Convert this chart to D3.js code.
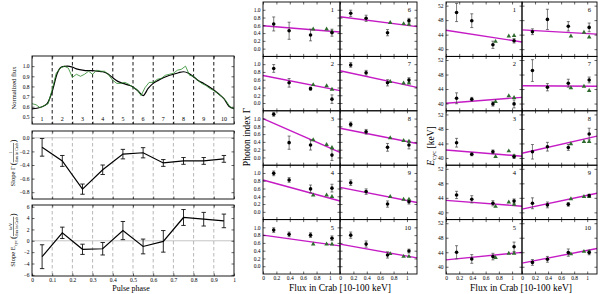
<!DOCTYPE html>
<html>
<head>
<meta charset="utf-8">
<script src="https://cdn.jsdelivr.net/npm/d3@7"></script>
<style>
body { margin: 0; background: #fff; }
svg { display: block; font-family: "Liberation Serif", "DejaVu Serif", serif; }
</style>
</head>
<body>
<svg id="fig" width="600" height="294"></svg>
<script>
/* Data */

var binPhase = [0.05, 0.15, 0.25, 0.35, 0.45, 0.55, 0.65, 0.75, 0.85, 0.95];
var binLabels = ["1", "2", "3", "4", "5", "6", "7", "8", "9", "10"];
var binEdges = [0.1, 0.2, 0.3, 0.4, 0.5, 0.6, 0.7, 0.8, 0.9];

// pulse profile, smooth (black)
var profPhase = [0, 0.025, 0.05, 0.075, 0.1, 0.125, 0.15, 0.175, 0.2, 0.225, 0.25, 0.275, 0.3, 0.325, 0.35, 0.375, 0.4,
	0.425, 0.45, 0.475, 0.5, 0.525, 0.55, 0.575, 0.6, 0.625, 0.65, 0.675, 0.7, 0.725, 0.75, 0.775, 0.8, 0.825, 0.85,
	0.875, 0.9, 0.925, 0.95, 0.975, 1];
var profFlux = [0.58, 0.585, 0.6, 0.63, 0.75, 0.93, 0.995, 1.0, 0.99, 0.97, 0.96, 0.955, 0.955, 0.95, 0.945, 0.925, 0.885,
	0.85, 0.83, 0.815, 0.795, 0.755, 0.71, 0.78, 0.83, 0.86, 0.885, 0.905, 0.92, 0.935, 0.945, 0.93, 0.895, 0.855, 0.83,
	0.8, 0.765, 0.725, 0.68, 0.605, 0.58];

// pulse profile, fine bins (green)
var fineTime = [0, 0.02, 0.04, 0.06, 0.08, 0.1, 0.12, 0.14, 0.16, 0.18, 0.2, 0.22, 0.24, 0.26, 0.28, 0.3, 0.32, 0.34, 0.36,
	0.38, 0.4, 0.42, 0.44, 0.46, 0.48, 0.5, 0.52, 0.54, 0.56, 0.58, 0.6, 0.62, 0.64, 0.66, 0.68, 0.7, 0.72, 0.74, 0.76,
	0.78, 0.8, 0.82, 0.84, 0.86, 0.88, 0.9, 0.92, 0.94, 0.96, 0.98, 1];
var fineFlux = [0.63, 0.62, 0.59, 0.61, 0.63, 0.77, 0.93, 0.98, 1.0, 0.98, 0.89, 0.92, 0.9, 0.92, 0.95, 0.92, 0.96, 0.95,
	0.95, 0.91, 0.86, 0.83, 0.83, 0.84, 0.82, 0.79, 0.77, 0.71, 0.79, 0.84, 0.84, 0.87, 0.88, 0.91, 0.92, 0.93, 0.96, 0.97,
	1.0, 0.91, 0.9, 0.86, 0.83, 0.81, 0.78, 0.76, 0.73, 0.7, 0.66, 0.6, 0.58];

// slopes per phase bin
var slopeGamma = [-0.14, -0.34, -0.755, -0.47, -0.24, -0.22, -0.37, -0.34, -0.34, -0.31];
var slopeGammaErr = [0.13, 0.08, 0.075, 0.07, 0.07, 0.075, 0.05, 0.05, 0.05, 0.05];
var slopeEcyc = [-2.8, 1.4, -1.5, -1.4, 1.8, -1.0, -0.1, 4.1, 3.8, 3.5];
var slopeEcycErr = [2.1, 1.0, 0.9, 1.1, 1.6, 1.3, 1.9, 1.4, 1.2, 1.2];

// flux of the observations (circles) and of the reference points (triangles)
var fluxCircle = [0.16, 0.39, 0.71, 1.03];
var fluxTriangle = [0.75, 0.95, 1.03];

// photon index per bin
var gammaCircle = [
	[0.635, 0.46, 0.35, 0.41], [0.89, 0.52, 0.37, 0.10], [1.11, 0.38, 0.32, 0.06], [0.99, 0.82, 0.59, 0.61],
	[0.93, 0.82, 0.80, 0.72], [0.91, 0.78, 0.41, 0.72], [0.98, 0.78, 0.52, 0.59], [0.85, 0.66, 0.26, 0.32],
	[0.75, 0.52, 0.20, 0.26], [0.80, 0.57, 0.29, 0.39]];
var gammaCircleErr = [
	[0.18, 0.22, 0.15, 0.09], [0.10, 0.11, 0.04, 0.11], [0.05, 0.17, 0.13, 0.14], [0.06, 0.06, 0.10, 0.10],
	[0.06, 0.06, 0.06, 0.06], [0.08, 0.08, 0.08, 0.06], [0.06, 0.06, 0.08, 0.06], [0.06, 0.06, 0.10, 0.10],
	[0.07, 0.07, 0.08, 0.06], [0.08, 0.08, 0.08, 0.05]];
var gammaTriangle = [
	[0.50, 0.50, 0.44], [0.47, 0.44, 0.35], [0.45, 0.33, 0.25], [0.43, 0.43, 0.39], [0.57, 0.57, 0.57],
	[0.67, 0.64, 0.62], [0.55, 0.51, 0.51], [0.50, 0.43, 0.41], [0.39, 0.32, 0.32], [0.32, 0.25, 0.25]];
var gammaIntercept = [0.59, 0.71, 1.0, 0.82, 0.80, 0.82, 0.83, 0.75, 0.63, 0.57];

// cyclotron energy per bin
var ecycCircle = [
	[50.1, 47.85, 41.2, 42.3], [41.45, 41.2, 39.9, 39.9], [44.2, 41.0, 41.7, 40.35], [44.8, 43.6, 42.5, 43.1],
	[44.0, 42.15, 42.8, 45.5], [44.8, 48.2, 46.3, 46.0], [49.1, 44.5, 45.6, 46.5], [41.7, 43.1, 42.9, 46.6],
	[42.5, 42.05, 42.2, 44.6], [41.2, 42.05, 43.9, 43.9]];
var ecycCircleErr = [
	[2.5, 1.9, 1.0, 0.6], [1.5, 0.5, 0.6, 1.1], [1.2, 0.4, 0.5, 0.5], [1.0, 1.0, 0.7, 0.6],
	[1.8, 1.2, 0.9, 1.3], [0.8, 2.8, 1.3, 1.2], [3.0, 1.0, 1.1, 0.8], [2.0, 1.2, 0.8, 1.6],
	[1.5, 0.8, 0.5, 0.4], [0.8, 0.8, 1.0, 0.6]];
var ecycTriangle = [
	[42.1, 43.6, 43.7], [40.5, 42.1, 41.6], [40.35, 41.9, 40.6], [41.6, 42.8, 42.2], [42.5, 43.7, 43.7],
	[43.6, 44.6, 43.3], [44.3, 44.7, 43.55], [43.85, 44.5, 44.5], [43.7, 44.3, 44.3], [43.5, 44.2, 44.2]];
var ecycIntercept = [45.2, 40.1, 42.2, 43.3, 41.9, 45.3, 44.9, 41.3, 40.9, 41.0];

var phaseTicks = [0, 0.1, 0.2, 0.3, 0.4, 0.5, 0.6, 0.7, 0.8, 0.9, 1];
var profTicks = [0.5, 0.6, 0.7, 0.8, 0.9, 1.0];
var sgTicks = [0, -0.2, -0.4, -0.6, -0.8];
var seTicks = [-6, -4, -2, 0, 2, 4, 6];
var fluxTicks = [0, 0.2, 0.4, 0.6, 0.8, 1];
var gammaTicks = [0, 0.2, 0.4, 0.6, 0.8, 1.0];
var ecycTicks = [40, 44, 48, 52];

/* Setup */

var svg = d3.select("#fig");
var serif = '"Liberation Serif", "DejaVu Serif", serif';
var magenta = "#c51bc5", green = "#2a8a2a", dkgreen = "#2f6b2f";

var xPh = d3.scaleLinear().domain([0, 1]).range([32, 234]);
var yProf = d3.scaleLinear().domain([0.43, 1.1]).range([124, 56]);
var ySg = d3.scaleLinear().domain([-0.9, 0.1]).range([199, 131]);
var ySe = d3.scaleLinear().domain([-6.2, 6.3]).range([276, 205]);

function fmtNum(d) {
	if (d == 0) return "0";
	if (d == 1) return "1";
	return d3.format(".1f")(d);
}

function drawAxes(g, xs, ys, xt, yt, showX, showY, xf, yf) {
	var x0 = xs.range()[0], x1 = xs.range()[1], y0 = ys.range()[1], y1 = ys.range()[0];
	var parts = [
		g.append("g").attr("transform", "translate(0," + y1 + ")")
			.call(d3.axisBottom(xs).tickValues(xt).tickSize(-2.5).tickPadding(1.8).tickFormat(showX ? xf : "")),
		g.append("g").attr("transform", "translate(0," + y0 + ")")
			.call(d3.axisTop(xs).tickValues(xt).tickSize(-2.5).tickFormat("")),
		g.append("g").attr("transform", "translate(" + x0 + ",0)")
			.call(d3.axisLeft(ys).tickValues(yt).tickSize(-2.5).tickPadding(2.5).tickFormat(showY ? yf : "")),
		g.append("g").attr("transform", "translate(" + x1 + ",0)")
			.call(d3.axisRight(ys).tickValues(yt).tickSize(-2.5).tickFormat(""))
	];
	parts.forEach(function(p) {
		p.attr("font-family", serif).attr("font-size", 5.5);
		p.select(".domain").remove();
		p.selectAll(".tick line").attr("stroke-width", 0.6);
	});
	g.append("rect").attr("x", x0).attr("y", y0).attr("width", x1 - x0).attr("height", y1 - y0)
		.attr("fill", "none").attr("stroke", "#000").attr("stroke-width", 0.9);
}

function errorBars(g, pts, xs, ys, cap, color, sw) {
	var eb = g.append("g").attr("stroke", color).attr("stroke-width", sw);
	eb.selectAll("line.v").data(pts).enter().append("line").attr("class", "v")
		.attr("x1", function(d) { return xs(d.x); }).attr("x2", function(d) { return xs(d.x); })
		.attr("y1", function(d) { return ys(d.y - d.e); }).attr("y2", function(d) { return ys(d.y + d.e); });
	[-1, 1].forEach(function(s) {
		eb.selectAll("line.c" + (s + 1)).data(pts).enter().append("line").attr("class", "c" + (s + 1))
			.attr("x1", function(d) { return xs(d.x) - cap; }).attr("x2", function(d) { return xs(d.x) + cap; })
			.attr("y1", function(d) { return ys(d.y + s * d.e); }).attr("y2", function(d) { return ys(d.y + s * d.e); });
	});
}

/* ------- Pulse profile ------- */
var gA = svg.append("g");
gA.selectAll("line.edge").data(binEdges).enter().append("line").attr("class", "edge")
	.attr("x1", xPh).attr("x2", xPh).attr("y1", 56).attr("y2", 124)
	.attr("stroke", "#000").attr("stroke-width", 0.9).attr("stroke-dasharray", "3.5,2.5");
gA.append("path")
	.datum(d3.zip(profPhase, profFlux))
	.attr("fill", "none").attr("stroke", "#000").attr("stroke-width", 1.2)
	.attr("d", d3.line().curve(d3.curveMonotoneX).x(function(d) { return xPh(d[0]); }).y(function(d) { return yProf(d[1]); }));
gA.append("path")
	.datum(d3.zip(fineTime, fineFlux))
	.attr("fill", "none").attr("stroke", green).attr("stroke-width", 0.9).attr("stroke-opacity", 0.9)
	.attr("d", d3.line().x(function(d) { return xPh(d[0]); }).y(function(d) { return yProf(d[1]); }));
gA.selectAll("text.bin").data(binPhase).enter().append("text").attr("class", "bin")
	.attr("x", xPh).attr("y", 121).attr("text-anchor", "middle").attr("font-size", 6)
	.text(function(d, i) { return binLabels[i]; });
drawAxes(gA, xPh, yProf, phaseTicks, profTicks, false, true, fmtNum, d3.format(".1f"));

/* ------- Slope panels ------- */
function slopePanel(ys, vals, errs) {
	var g = svg.append("g");
	var y0 = ys.range()[1], y1 = ys.range()[0];
	g.selectAll("line.edge").data(binEdges).enter().append("line").attr("class", "edge")
		.attr("x1", xPh).attr("x2", xPh).attr("y1", y0).attr("y2", y1)
		.attr("stroke", "#999").attr("stroke-width", 0.7).attr("stroke-dasharray", "3.5,2.5");
	g.append("line").attr("x1", xPh(0)).attr("x2", xPh(1)).attr("y1", ys(0)).attr("y2", ys(0))
		.attr("stroke", "#aaa").attr("stroke-width", 0.7);
	var pts = vals.map(function(v, i) { return {x: binPhase[i], y: v, e: errs[i]}; });
	errorBars(g, pts, xPh, ys, 2.2, "#111", 0.9);
	g.append("path").datum(pts).attr("fill", "none").attr("stroke", "#000").attr("stroke-width", 1.2)
		.attr("d", d3.line().x(function(d) { return xPh(d.x); }).y(function(d) { return ys(d.y); }));
	return g;
}
var gB = slopePanel(ySg, slopeGamma, slopeGammaErr);
drawAxes(gB, xPh, ySg, phaseTicks, sgTicks, false, true, fmtNum, d3.format(".1f"));
var gC = slopePanel(ySe, slopeEcyc, slopeEcycErr);
drawAxes(gC, xPh, ySe, phaseTicks, seTicks, true, true, fmtNum, d3.format("d"));

/* ------- Flux grids ------- */
var rowTops = [2, 56.4, 110.8, 165.2, 219.6, 274];

function fluxGrid(colX, yDom, circ, circErr, tri, icpt, slope, yt, yf) {
	for (var c = 0; c < 2; c++) {
		var xs = d3.scaleLinear().domain([0, 1.15]).range([colX[c], colX[c + 1]]);
		for (var r = 0; r < 5; r++) {
			var k = c * 5 + r;
			var ys = d3.scaleLinear().domain(yDom).range([rowTops[r + 1], rowTops[r]]);
			var g = svg.append("g");
			g.append("line")
				.attr("x1", xs(0)).attr("x2", xs(1.15))
				.attr("y1", ys(icpt[k])).attr("y2", ys(icpt[k] + slope[k] * 1.15))
				.attr("stroke", magenta).attr("stroke-width", 1.4);
			var pts = circ[k].map(function(v, i) { return {x: fluxCircle[i], y: v, e: circErr[k][i]}; });
			errorBars(g, pts, xs, ys, 1.5, "#444", 0.7);
			g.selectAll("path.tri").data(tri[k]).enter().append("path").attr("class", "tri")
				.attr("d", d3.symbol(d3.symbolTriangle).size(9))
				.attr("transform", function(d, i) { return "translate(" + xs(fluxTriangle[i]) + "," + ys(d) + ")"; })
				.attr("fill", dkgreen);
			g.selectAll("circle").data(pts).enter().append("circle")
				.attr("cx", function(d) { return xs(d.x); }).attr("cy", function(d) { return ys(d.y); })
				.attr("r", 1.8).attr("fill", "#000");
			g.append("text").attr("x", xs(1.15) - 6).attr("y", rowTops[r] + 10)
				.attr("text-anchor", "end").attr("font-size", 6.5).text(binLabels[k]);
			drawAxes(g, xs, ys, fluxTicks, yt, r == 4, c == 0, fmtNum, yf);
		}
	}
}

fluxGrid([263, 340, 417], [-0.2, 1.2], gammaCircle, gammaCircleErr, gammaTriangle, gammaIntercept, slopeGamma,
	gammaTicks, d3.format(".1f"));
fluxGrid([446, 522, 597], [38, 53], ecycCircle, ecycCircleErr, ecycTriangle, ecycIntercept, slopeEcyc,
	ecycTicks, d3.format("d"));

/* ------- Labels ------- */
function label(x, y, txt, size, rot) {
	var t = svg.append("text").attr("text-anchor", "middle").attr("font-size", size)
		.attr("transform", "translate(" + x + "," + y + ")" + (rot ? " rotate(-90)" : ""));
	t.text(txt);
	return t;
}
label(131, 291, "Pulse phase", 8, false);
label(340, 291, "Flux in Crab [10-100 keV]", 9.5, false);
label(521, 291, "Flux in Crab [10-100 keV]", 9.5, false);
label(16, 88, "Normalized flux", 6.5, true);
label(250, 137, "Photon index \u0393", 9.5, true);

var ec = svg.append("text").attr("text-anchor", "middle").attr("font-size", 9.5)
	.attr("transform", "translate(434,146) rotate(-90)");
ec.append("tspan").attr("font-style", "italic").text("E");
ec.append("tspan").attr("font-size", 6.5).attr("dy", 2).text("cyc");
ec.append("tspan").attr("dy", -2).text(" [keV]");

function slopeLabel(cx, cy, main, sub, num) {
	var g = svg.append("g").attr("transform", "translate(" + cx + "," + cy + ") rotate(-90)");
	var h = g.append("g");
	var t = h.append("text").attr("font-size", 6.5).attr("y", 2);
	t.append("tspan").text(main);
	if (sub) t.append("tspan").attr("font-size", 4.5).attr("dy", 1.5).text(sub);
	var w1 = t.node().getComputedTextLength();
	var op = h.append("text").attr("x", w1 + 1).attr("y", 2.5).attr("font-size", 9).text("(");
	var w2 = w1 + 1 + op.node().getComputedTextLength();
	var den = h.append("text").attr("font-size", 4).attr("text-anchor", "middle").attr("y", 5).text("flux in Crab");
	var fw = den.node().getComputedTextLength();
	den.attr("x", w2 + fw / 2);
	h.append("text").attr("font-size", 4.5).attr("text-anchor", "middle").attr("x", w2 + fw / 2).attr("y", -1.5).text(num);
	h.append("line").attr("x1", w2).attr("x2", w2 + fw).attr("y1", 0.5).attr("y2", 0.5)
		.attr("stroke", "#000").attr("stroke-width", 0.5);
	var cl = h.append("text").attr("x", w2 + fw + 0.5).attr("y", 2.5).attr("font-size", 9).text(")");
	var tot = w2 + fw + 0.5 + cl.node().getComputedTextLength();
	h.attr("transform", "translate(" + (-tot / 2) + ",0)");
}
slopeLabel(13, 163, "Slope \u0393 ", null, "1");
slopeLabel(13, 240, "Slope E", "cyc", "keV");
</script>
</body>
</html>
